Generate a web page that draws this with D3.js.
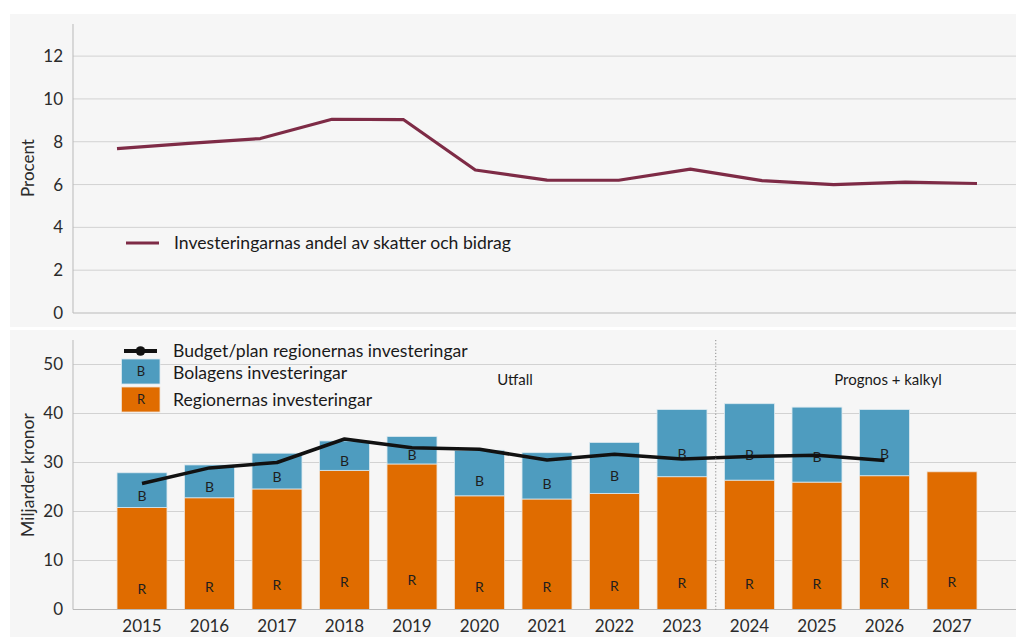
<!DOCTYPE html>
<html>
<head>
<meta charset="utf-8">
<script src="https://cdn.jsdelivr.net/npm/d3@7"></script>
<style>
  html, body { margin: 0; padding: 0; background: #ffffff; }
  svg { display: block; font-family: Lato, "Open Sans", sans-serif; }
</style>
</head>
<body>
<svg id="chart" width="1016" height="637"></svg>
<script>
// Years shown on both panels
const years = ["2015","2016","2017","2018","2019","2020","2021","2022","2023","2024","2025","2026","2027"];

// Top panel: investments as share of taxes and grants (percent)
const shareOfTaxes = [7.68, 7.92, 8.15, 9.05, 9.03, 6.68, 6.21, 6.2, 6.72, 6.18, 6.0, 6.11, 6.05];

// Bottom panel: billions SEK
const regionInvest = [20.8, 22.8, 24.6, 28.4, 29.7, 23.2, 22.55, 23.7, 27.1, 26.4, 26.0, 27.3, 28.1];
const companyInvest = [7.1, 6.7, 7.3, 6.0, 5.6, 9.3, 9.45, 10.4, 13.7, 15.6, 15.3, 13.5, 0];
const budgetPlan = [25.7, 28.9, 30.0, 34.8, 33.0, 32.7, 30.5, 31.7, 30.7, 31.2, 31.5, 30.4, null];

// Tick values
const topTicks = [0, 2, 4, 6, 8, 10, 12];
const bottomTicks = [0, 10, 20, 30, 40, 50];

// Texts
const topAxisTitle = "Procent";
const bottomAxisTitle = "Miljarder kronor";
const topLegendLabel = "Investeringarnas andel av skatter och bidrag";
const legendLabels = ["Budget/plan regionernas investeringar", "Bolagens investeringar", "Regionernas investeringar"];
const periodLabels = ["Utfall", "Prognos + kalkyl"];
const lastOutcomeYear = "2023";

const colors = {
  share: "#7e2b46",
  region: "#e06c00",
  company: "#4e9cbf",
  budget: "#111111",
  grid: "#d2d2d2",
  axis: "#b9b9b9",
  text: "#2b2b2b",
  panel: "#f6f6f6"
};

const svg = d3.select("#chart");

// Panel backgrounds
svg.append("rect").attr("x", 10).attr("y", 14).attr("width", 1006).attr("height", 313).attr("fill", colors.panel);
svg.append("rect").attr("x", 10).attr("y", 330).attr("width", 1006).attr("height", 307).attr("fill", colors.panel);

const plotLeft = 73, plotRight = 1016;

// ---------- Top panel ----------
const yTop = d3.scaleLinear().domain([0, 13.5]).range([313, 24]);
const xTop = d3.scalePoint().domain(years).range([117, 977]);

const topG = svg.append("g");

topG.append("g").selectAll("line").data(topTicks.filter(d => d > 0)).join("line")
  .attr("x1", plotLeft).attr("x2", plotRight)
  .attr("y1", d => yTop(d)).attr("y2", d => yTop(d))
  .attr("stroke", colors.grid).attr("stroke-width", 1);

topG.append("line").attr("x1", plotLeft).attr("x2", plotRight)
  .attr("y1", yTop(0)).attr("y2", yTop(0)).attr("stroke", colors.axis).attr("stroke-width", 1.2);
topG.append("line").attr("x1", plotLeft).attr("x2", plotLeft)
  .attr("y1", yTop(13.5)).attr("y2", yTop(0)).attr("stroke", colors.axis).attr("stroke-width", 1);

const yTopAxis = d3.axisLeft(yTop).tickValues(topTicks).tickSize(0).tickPadding(10);
topG.append("g").attr("transform", `translate(${plotLeft},0)`).call(yTopAxis)
  .call(g => g.select(".domain").remove())
  .call(g => g.selectAll("text").attr("font-size", 17).attr("fill", colors.text).attr("font-family", "Lato, sans-serif"));

topG.append("text").attr("transform", `translate(34,168) rotate(-90)`)
  .attr("text-anchor", "middle").attr("font-size", 17).attr("fill", colors.text).text(topAxisTitle);

topG.append("path").datum(shareOfTaxes)
  .attr("fill", "none").attr("stroke", colors.share).attr("stroke-width", 3.2)
  .attr("stroke-linejoin", "round")
  .attr("d", d3.line().x((d, i) => xTop(years[i])).y(d => yTop(d)));

topG.append("line").attr("x1", 126).attr("x2", 159).attr("y1", 243).attr("y2", 243)
  .attr("stroke", colors.share).attr("stroke-width", 3.2);
topG.append("text").attr("x", 174).attr("y", 243).attr("dy", "0.35em")
  .attr("font-size", 17.6).attr("fill", "#1a1a1a").text(topLegendLabel);

// ---------- Bottom panel ----------
const yBot = d3.scaleLinear().domain([0, 55]).range([609.5, 340]);
const xBot = d3.scaleBand().domain(years).range([108.25, 985.75]).paddingInner(0.26).paddingOuter(0.13);

const botG = svg.append("g");

botG.append("g").selectAll("line").data(bottomTicks.filter(d => d > 0)).join("line")
  .attr("x1", plotLeft).attr("x2", plotRight)
  .attr("y1", d => yBot(d)).attr("y2", d => yBot(d))
  .attr("stroke", colors.grid).attr("stroke-width", 1);

botG.append("line").attr("x1", plotLeft).attr("x2", plotLeft)
  .attr("y1", yBot(55)).attr("y2", yBot(0)).attr("stroke", colors.axis).attr("stroke-width", 1);

const yBotAxis = d3.axisLeft(yBot).tickValues(bottomTicks).tickSize(0).tickPadding(10);
botG.append("g").attr("transform", `translate(${plotLeft},0)`).call(yBotAxis)
  .call(g => g.select(".domain").remove())
  .call(g => g.selectAll("text").attr("font-size", 17).attr("fill", colors.text).attr("font-family", "Lato, sans-serif"));

botG.append("text").attr("transform", `translate(34,475) rotate(-90)`)
  .attr("text-anchor", "middle").attr("font-size", 17.5).attr("fill", colors.text).text(bottomAxisTitle);

// Stacked bars
const rows = years.map((y, i) => ({ year: y, R: regionInvest[i], B: companyInvest[i], plan: budgetPlan[i] }));

const bars = botG.append("g");
bars.selectAll("rect.region").data(rows).join("rect").attr("class", "region")
  .attr("x", d => xBot(d.year)).attr("width", xBot.bandwidth())
  .attr("y", d => yBot(d.R)).attr("height", d => yBot(0) - yBot(d.R))
  .attr("fill", colors.region).attr("stroke", "#f1e2d2").attr("stroke-width", 0.8);
bars.selectAll("rect.company").data(rows.filter(d => d.B > 0)).join("rect").attr("class", "company")
  .attr("x", d => xBot(d.year)).attr("width", xBot.bandwidth())
  .attr("y", d => yBot(d.R + d.B)).attr("height", d => yBot(d.R) - yBot(d.R + d.B))
  .attr("fill", colors.company).attr("stroke", "#dbe9ef").attr("stroke-width", 0.8);

// Segment letters
bars.selectAll("text.rl").data(rows).join("text").attr("class", "rl")
  .attr("x", d => xBot(d.year) + xBot.bandwidth() / 2)
  .attr("y", d => yBot(d.R * 0.2)).attr("dy", "0.35em")
  .attr("text-anchor", "middle").attr("font-size", 14).attr("fill", "#1e1e1e").text("R");
bars.selectAll("text.bl").data(rows.filter(d => d.B > 0)).join("text").attr("class", "bl")
  .attr("x", d => xBot(d.year) + xBot.bandwidth() / 2)
  .attr("y", d => yBot(d.R + d.B * 0.33)).attr("dy", "0.35em")
  .attr("text-anchor", "middle").attr("font-size", 14).attr("fill", "#1e1e1e").text("B");

// Baseline
botG.append("line").attr("x1", plotLeft).attr("x2", plotRight)
  .attr("y1", yBot(0)).attr("y2", yBot(0)).attr("stroke", colors.axis).attr("stroke-width", 1.2);

// Budget/plan line
const planRows = rows.filter(d => d.plan != null);
botG.append("path").datum(planRows)
  .attr("fill", "none").attr("stroke", colors.budget).attr("stroke-width", 3.5)
  .attr("stroke-linejoin", "round")
  .attr("d", d3.line().x(d => xBot(d.year) + xBot.bandwidth() / 2).y(d => yBot(d.plan)));

// Divider between outcome and forecast
const divX = xBot(lastOutcomeYear) + xBot.bandwidth() + (xBot.step() - xBot.bandwidth()) / 2;
botG.append("line").attr("x1", divX).attr("x2", divX).attr("y1", yBot(55)).attr("y2", yBot(0))
  .attr("stroke", "#8a8a8a").attr("stroke-width", 1).attr("stroke-dasharray", "1.2,2");

// Period labels
botG.append("text").attr("x", 515).attr("y", 380).attr("dy", "0.35em").attr("text-anchor", "middle")
  .attr("font-size", 15).attr("fill", "#1a1a1a").text(periodLabels[0]);
botG.append("text").attr("x", 888).attr("y", 380).attr("dy", "0.35em").attr("text-anchor", "middle")
  .attr("font-size", 15).attr("fill", "#1a1a1a").text(periodLabels[1]);

// X axis
const xAxis = d3.axisBottom(xBot).tickSize(0).tickPadding(10);
botG.append("g").attr("transform", `translate(0,${yBot(0)})`).call(xAxis)
  .call(g => g.select(".domain").remove())
  .call(g => g.selectAll("text").attr("font-size", 17).attr("fill", colors.text).attr("font-family", "Lato, sans-serif"));

// Legend
const leg = botG.append("g");
leg.append("line").attr("x1", 124).attr("x2", 157).attr("y1", 351).attr("y2", 351)
  .attr("stroke", colors.budget).attr("stroke-width", 4);
leg.append("circle").attr("cx", 140.5).attr("cy", 351).attr("r", 4.8).attr("fill", colors.budget);
leg.append("rect").attr("x", 121.5).attr("y", 359).attr("width", 38.5).attr("height", 25)
  .attr("fill", colors.company).attr("stroke", "#dbe9ef").attr("stroke-width", 0.8);
leg.append("rect").attr("x", 121.5).attr("y", 387).attr("width", 38.5).attr("height", 25)
  .attr("fill", colors.region).attr("stroke", "#f1e2d2").attr("stroke-width", 0.8);
leg.append("text").attr("x", 141).attr("y", 371.5).attr("dy", "0.35em").attr("text-anchor", "middle")
  .attr("font-size", 13).attr("fill", "#1e1e1e").text("B");
leg.append("text").attr("x", 141).attr("y", 399.5).attr("dy", "0.35em").attr("text-anchor", "middle")
  .attr("font-size", 13).attr("fill", "#1e1e1e").text("R");
const legendY = [351, 373, 400];
leg.selectAll("text.lab").data(legendLabels).join("text").attr("class", "lab")
  .attr("x", 173).attr("y", (d, i) => legendY[i]).attr("dy", "0.35em")
  .attr("font-size", 17.6).attr("fill", "#1a1a1a").text(d => d);
</script>
</body>
</html>
